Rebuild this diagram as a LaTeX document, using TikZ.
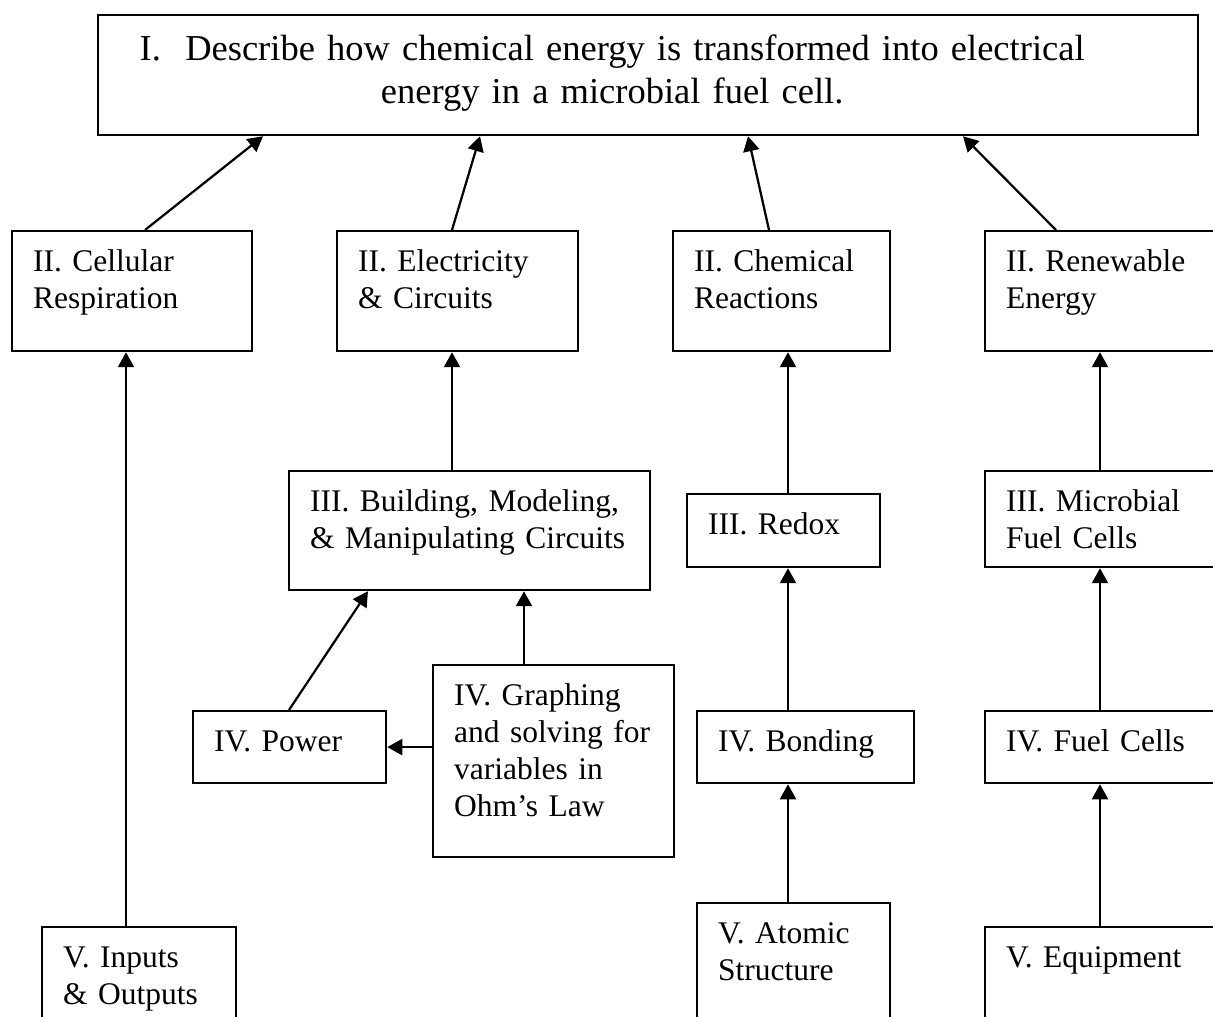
\documentclass[tikz,border=0pt]{standalone}
\usepackage{fontspec}
\setmainfont{Liberation Serif}
\usetikzlibrary{calc}
\usetikzlibrary{arrows.meta}
\tikzset{every picture/.style={line width=0.9pt}}
\hyphenpenalty=10000

\begin{document}
\begin{tikzpicture}[x=0.4pt,y=-0.4pt,bx/.style={draw,anchor=north west,align=left,inner xsep=8.4pt,inner ysep=0pt,text height=16pt,font=\fontsize{12.6}{14.9}\selectfont},ar/.style={-{Triangle[length=6pt,width=6.4pt]}}]
\useasboundingbox (0,0) rectangle (1213,1017);
\node (top) at (97,14) [draw,anchor=north west,align=center,inner xsep=10pt,inner ysep=0pt,text width=420pt,text height=18pt,text depth=30pt,font=\fontsize{14.6}{17.2}\selectfont] {I.~~Describe how chemical energy is transformed into electrical\makebox[28.8pt]{}\\ energy in a microbial fuel cell.\makebox[28.8pt]{}};
% level II
\node (cell) at (11,230) [bx,text width=79.2pt,text depth=32pt] {II. Cellular\\ Respiration};
\node (elec) at (336,230) [bx,text width=79.6pt,text depth=32pt] {II. Electricity\\ \& Circuits};
\node (chem) at (672,230) [bx,text width=70pt,text depth=32pt] {II. Chemical\\ Reactions};
\node (renew) at (984,230) [bx,text width=83.2pt,text depth=32pt] {II. Renewable\\ Energy};
% level III
\node (build) at (288,470) [bx,text width=127.6pt,text depth=31.6pt] {III.~Building,~Modeling,\\ \&~Manipulating~Circuits};
\node (redox) at (686,493) [bx,text width=60.4pt,text depth=13.2pt] {III. Redox};
\node (micro) at (984,470) [bx,text width=83.2pt,text depth=22.4pt] {III. Microbial\\ Fuel Cells};
% level IV
\node (power) at (192,710) [bx,text width=60.4pt,text depth=12.8pt] {IV. Power};
\node (graph) at (432,664) [bx,text width=79.6pt,text depth=60.8pt] {IV.~Graphing\\ and~solving~for\\ variables~in\\ Ohm’s~Law};
\node (bond) at (696,710) [bx,text width=70pt,text depth=12.8pt] {IV. Bonding};
\node (fuel) at (984,710) [bx,text width=83.2pt,text depth=12.8pt] {IV. Fuel Cells};
% level V
\node (inout) at (41,926) [bx,text width=60.8pt,text depth=44pt] {V. Inputs\\ \& Outputs};
\node (atom) at (696,902) [bx,text width=60.4pt,text depth=44pt] {V. Atomic\\ Structure};
\node (equip) at (984,926) [bx,text width=83.2pt,text depth=44pt] {V. Equipment};
% arrows
\draw[ar] ($(cell.north west)+(134,0)$) -- ($(top.south west)+(166,0)$);
\draw[ar] ($(elec.north west)+(116,0)$) -- ($(top.south west)+(383,0)$);
\draw[ar] ($(chem.north west)+(97,0)$) -- ($(top.south west)+(651,0)$);
\draw[ar] ($(renew.north west)+(72,0)$) -- ($(top.south west)+(866,0)$);
\draw[ar] ($(inout.north west)+(85,0)$) -- ($(cell.south west)+(115,0)$);
\draw[ar] ($(build.north west)+(164,0)$) -- ($(elec.south west)+(116,0)$);
\draw[ar] ($(redox.north west)+(102,0)$) -- ($(chem.south west)+(116,0)$);
\draw[ar] ($(micro.north west)+(116,0)$) -- ($(renew.south west)+(116,0)$);
\draw[ar] ($(power.north west)+(97,0)$) -- ($(build.south west)+(80,0)$);
\draw[ar] ($(graph.north west)+(92,0)$) -- ($(build.south west)+(236,0)$);
\draw[ar] (graph.west |- power.east) -- (power.east);
\draw[ar] ($(bond.north west)+(92,0)$) -- ($(redox.south west)+(102,0)$);
\draw[ar] ($(fuel.north west)+(116,0)$) -- ($(micro.south west)+(116,0)$);
\draw[ar] ($(atom.north west)+(92,0)$) -- ($(bond.south west)+(92,0)$);
\draw[ar] ($(equip.north west)+(116,0)$) -- ($(fuel.south west)+(116,0)$);
\end{tikzpicture}
\end{document}
